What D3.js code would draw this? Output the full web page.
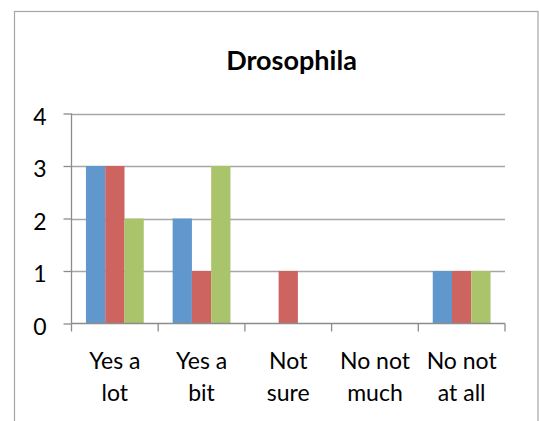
<!DOCTYPE html>
<html>
<head>
<meta charset="utf-8">
<script src="https://cdn.jsdelivr.net/npm/d3@7"></script>
<style>
  html, body { margin: 0; padding: 0; background: #fff; }
  svg { display: block; }
</style>
</head>
<body>
<script>
const categories = [["Yes a", "lot"], ["Yes a", "bit"], ["Not", "sure"], ["No not", "much"], ["No not", "at all"]];
const seriesNames = ["Series1", "Series2", "Series3"];
const series1 = [3, 2, 0, 0, 1];
const series2 = [3, 1, 1, 0, 1];
const series3 = [2, 3, 0, 0, 1];
const yTicks = [0, 1, 2, 3, 4];
const colors = ["#6097cc", "#cd645f", "#a9c46a"];
const title = "Drosophila";

const W = 539, H = 421;
const svg = d3.select("body").append("svg").attr("width", W).attr("height", H);

// chart border
svg.append("rect").attr("x", 14.5).attr("y", 11.5).attr("width", 523.5).attr("height", 430)
  .attr("fill", "#fff").attr("stroke", "#a6a6a6").attr("stroke-width", 1.2);

const plot = { left: 71.5, right: 505, top: 113.5, bottom: 323.5 };

const x = d3.scaleBand().domain(d3.range(categories.length)).range([plot.left, plot.right]).paddingInner(0).paddingOuter(0);
const xs = d3.scaleBand().domain(d3.range(seriesNames.length)).range([0, x.bandwidth()]).paddingInner(0).paddingOuter(0.75);
const y = d3.scaleLinear().domain([0, 4]).range([plot.bottom, plot.top]);

// gridlines
svg.append("g").selectAll("line").data(yTicks.filter(d => d > 0)).join("line")
  .attr("x1", plot.left).attr("x2", plot.right)
  .attr("y1", d => Math.round(y(d)) + 0.5).attr("y2", d => Math.round(y(d)) + 0.5)
  .attr("stroke", "#a6a6a6").attr("stroke-width", 1.3);

// bars
const data = [series1, series2, series3];
data.forEach((vals, si) => {
  svg.append("g").selectAll("rect").data(vals).join("rect")
    .attr("x", (d, i) => x(i) + xs(si))
    .attr("width", xs.bandwidth())
    .attr("y", d => y(d))
    .attr("height", d => y(0) - y(d))
    .attr("fill", colors[si]);
});

// y axis
const yAxis = d3.axisLeft(y).tickValues(yTicks).tickSize(8).tickPadding(17).tickFormat(d3.format("d"));
const gy = svg.append("g").attr("transform", `translate(${plot.left},0)`).call(yAxis);
gy.select(".domain").attr("stroke", "#8c8c8c").attr("stroke-width", 1.3).attr("d", `M0,${plot.top}V${plot.bottom}`);
gy.selectAll(".tick line").attr("stroke", "#8c8c8c").attr("stroke-width", 1.3);
gy.selectAll(".tick text").attr("font-family", "Lato, sans-serif").attr("font-size", 23).attr("fill", "#000").attr("dy", "0.46em");

// x axis
const xAxis = d3.axisBottom(x).tickSize(0).tickFormat("");
const gx = svg.append("g").attr("transform", `translate(0,${plot.bottom})`).call(xAxis);
gx.select(".domain").attr("stroke", "#8c8c8c").attr("stroke-width", 1.3).attr("d", `M${plot.left},0H${plot.right}`);
const boundaries = d3.range(categories.length + 1).map(i => plot.left + i * x.step());
gx.selectAll(".bnd").data(boundaries).join("line").attr("class", "bnd")
  .attr("x1", d => d).attr("x2", d => d).attr("y1", 0).attr("y2", 8)
  .attr("stroke", "#8c8c8c").attr("stroke-width", 1.3);

// x labels
const xl = svg.append("g").attr("font-family", "Lato, sans-serif").attr("font-size", 23).attr("fill", "#000").attr("text-anchor", "middle");
categories.forEach((lines, i) => {
  lines.forEach((t, li) => {
    xl.append("text").attr("x", x(i) + x.bandwidth() / 2).attr("y", 368.5 + li * 32).text(t);
  });
});

// title
svg.append("text").attr("x", 291.5).attr("y", 69.5).attr("text-anchor", "middle")
  .attr("font-family", "Lato, sans-serif").attr("font-weight", "bold").attr("font-size", 27)
  .attr("fill", "#000").text(title);
</script>
</body>
</html>
